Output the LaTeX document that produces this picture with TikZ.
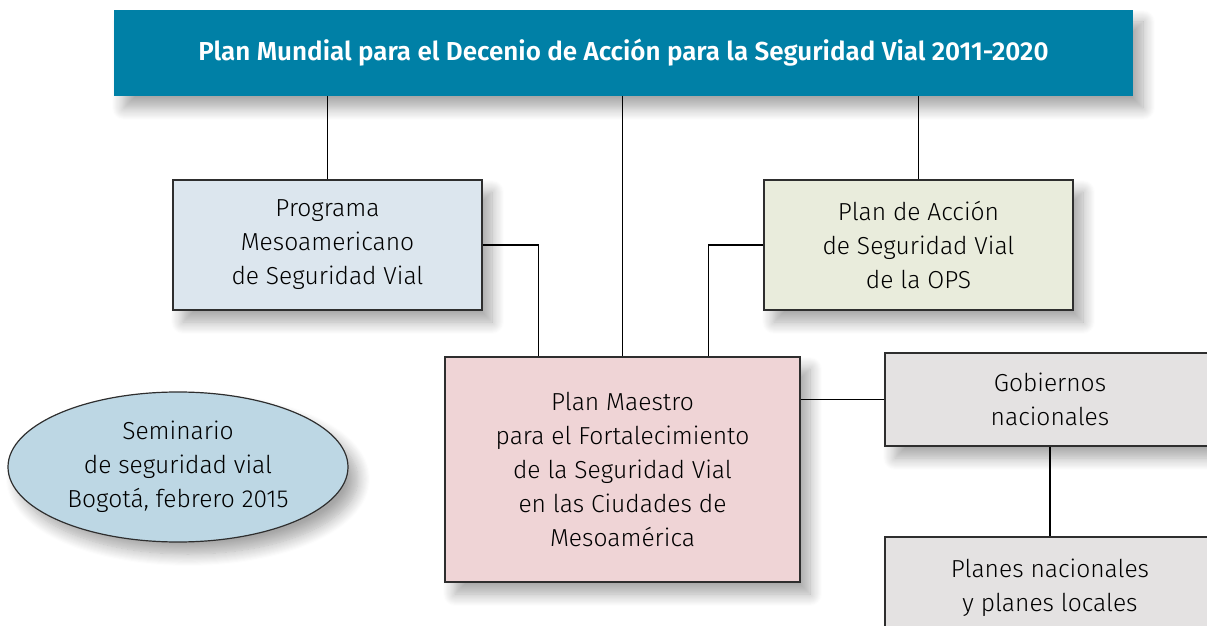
\documentclass[tikz,border=0pt]{standalone}
\usepackage{fontspec}
\setmainfont{Fira Sans Light}[BoldFont={Fira Sans SemiBold}]
\usetikzlibrary{shapes.geometric,shadows.blur}

\definecolor{planteal}{HTML}{0080A6}
\definecolor{progblue}{HTML}{DCE6EE}
\definecolor{opsgreen}{HTML}{E9ECDC}
\definecolor{maestropink}{HTML}{EFD4D6}
\definecolor{govgrey}{HTML}{E4E2E2}
\definecolor{seminblue}{HTML}{BDD7E4}
\definecolor{edgegrey}{HTML}{2E2E2E}

\begin{document}
\begin{tikzpicture}
   [x=0.5pt, y=-0.5pt,
   shade/.style={blur shadow={shadow xshift=5pt, shadow yshift=-6pt, shadow blur radius=6pt, shadow blur steps=12, shadow opacity=35}},
   titlebox/.style={draw=none, fill=planteal, text=white, font=\fontsize{13}{16}\selectfont\bfseries, minimum width=509.5pt, minimum height=43pt, inner sep=0pt, shade},
   plainbox/.style={draw=edgegrey, line width=0.6pt, align=center, inner sep=0pt, font=\fontsize{12.3}{17}\selectfont, shade},
   oval/.style={ellipse, draw=edgegrey, line width=0.6pt, fill=seminblue, align=center, inner sep=0pt, minimum width=170pt, minimum height=75pt, font=\fontsize{12.3}{17}\selectfont, shade},
   link/.style={draw=black, line width=0.6pt}]
\useasboundingbox (0,0) rectangle (1207,626);

\node[titlebox] (plan) at (623.5,53) {Plan Mundial para el Decenio de Acción para la Seguridad Vial 2011-2020};

\node[plainbox, fill=progblue, minimum width=154.5pt, minimum height=65pt] (prog) at (327.5,245)
   {Programa\\Mesoamericano\\de Seguridad Vial};
\node[plainbox, fill=opsgreen, minimum width=154.5pt, minimum height=65pt] (ops) at (918.5,245)
   {Plan de Acción\\de Seguridad Vial\\de la OPS};
\node[plainbox, fill=maestropink, minimum width=177.5pt, minimum height=112.5pt] (maestro) at (622.5,469.5)
   {Plan Maestro\\para el Fortalecimiento\\de la Seguridad Vial\\en las Ciudades de\\Mesoamérica};
\node[plainbox, fill=govgrey, minimum width=165pt, minimum height=46.5pt] (gob) at (1050,399.5)
   {Gobiernos\\nacionales};
\node[plainbox, fill=govgrey, minimum width=165pt, minimum height=51pt] (planes) at (1050,588)
   {Planes nacionales\\y planes locales};
\node[oval] (semin) at (178,467) {Seminario\\de seguridad vial\\Bogotá, febrero 2015};

% connectors
\draw[link] (plan.south -| prog.north) -- (prog.north);
\draw[link] (plan.south -| maestro.north) -- (maestro.north);
\draw[link] (plan.south -| ops.north) -- (ops.north);
\draw[link] (prog.east) -| ([xshift=47pt]maestro.north west);
\draw[link] (ops.west) -| ([xshift=-46pt]maestro.north east);
\draw[link] (gob.west) -- (gob.west -| maestro.east);
\draw[link] (gob.south) -- (planes.north);
\end{tikzpicture}
\end{document}
